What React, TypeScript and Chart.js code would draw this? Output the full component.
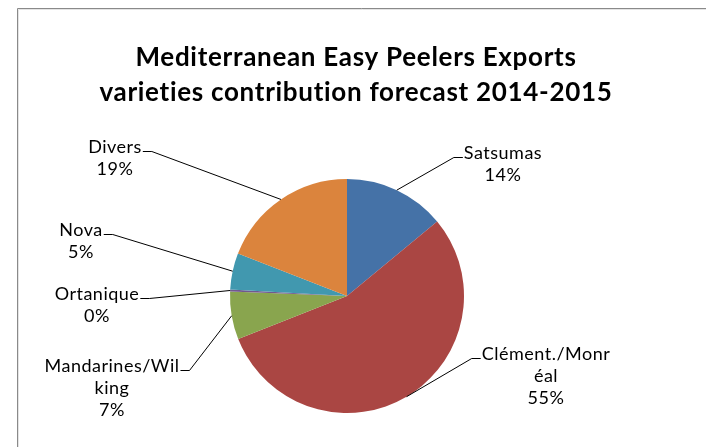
import React, { useEffect, useRef } from "react";
import { Chart, registerables } from "chart.js";

Chart.register(...registerables);

const titleLines = [
  "Mediterranean Easy Peelers Exports",
  "varieties contribution forecast 2014-2015",
];
const categories = [
  "Satsumas",
  "Clément./Monréal",
  "Mandarines/Wilking",
  "Ortanique",
  "Nova",
  "Divers",
];
const shares = [14.0, 55.0, 6.6, 0.3, 5.0, 19.1];
const sliceColors = ["#4572A7", "#AA4643", "#89A54E", "#71588F", "#4198AF", "#DB843D"];

// layout (not data): offset of each label's first text line centre from the pie centre
const labelOffsets: number[][] = [
  [156, -143],
  [199, 58],
  [-235, 70],
  [-250, -2],
  [-266, -66],
  [-232, -149],
];

const FONT_FAMILY = "Lato, 'Open Sans', sans-serif";
const LABEL_FONT = `18px ${FONT_FAMILY}`;
const LABEL_SPACING = "0.5px";
const TITLE_FONT = `bold 26px ${FONT_FAMILY}`;
const TITLE_SPACING = "0.7px";
const LINE_H = 22;
const WRAP_W = 138;

function wrapText(ctx: CanvasRenderingContext2D, text: string, maxW: number): string[] {
  const out: string[] = [];
  let cur = "";
  for (const ch of text) {
    const next = cur + ch;
    if (cur && ctx.measureText(next).width > maxW) {
      out.push(cur);
      cur = ch;
    } else {
      cur = next;
    }
  }
  if (cur) out.push(cur);
  return out;
}

const framePlugin = {
  id: "frameAndTitle",
  beforeDraw(chart: any) {
    const ctx = chart.ctx as any;
    ctx.save();
    ctx.fillStyle = "#ffffff";
    ctx.fillRect(0, 0, chart.width, chart.height);
    ctx.strokeStyle = "#8a8a8a";
    ctx.lineWidth = 1;
    ctx.beginPath();
    ctx.moveTo(17.5, chart.height);
    ctx.lineTo(17.5, 8.5);
    ctx.lineTo(chart.width, 8.5);
    ctx.stroke();
    ctx.strokeStyle = "#e4e4e4";
    ctx.beginPath();
    ctx.moveTo(18.5, chart.height);
    ctx.lineTo(18.5, 9.5);
    ctx.lineTo(chart.width, 9.5);
    ctx.stroke();
    ctx.fillStyle = "#000";
    ctx.font = TITLE_FONT;
    ctx.letterSpacing = TITLE_SPACING;
    ctx.textAlign = "center";
    ctx.textBaseline = "alphabetic";
    ctx.fillText(titleLines[0], 356, 66);
    ctx.fillText(titleLines[1], 356, 101);
    ctx.restore();
  },
};

const labelPlugin = {
  id: "pieLabels",
  afterDatasetsDraw(chart: any) {
    const ctx = chart.ctx as any;
    const meta = chart.getDatasetMeta(0);
    const data = chart.data.datasets[0].data as number[];
    const total = data.reduce((a, b) => a + b, 0);
    ctx.save();
    ctx.font = LABEL_FONT;
    ctx.letterSpacing = LABEL_SPACING;
    ctx.fillStyle = "#000";
    ctx.textAlign = "center";
    ctx.textBaseline = "middle";
    meta.data.forEach((arc: any, i: number) => {
      const p = arc.getProps(["x", "y", "startAngle", "endAngle", "outerRadius"], true);
      const mid = (p.startAngle + p.endAngle) / 2;
      const ax = p.x + Math.cos(mid) * p.outerRadius;
      const ay = p.y + Math.sin(mid) * p.outerRadius;
      const pct = Math.round((data[i] / total) * 100) + "%";
      const lines = [...wrapText(ctx, chart.data.labels[i], WRAP_W), pct];
      const [dx, dy] = labelOffsets[i];
      const cx = p.x + dx;
      const cy = p.y + dy;
      lines.forEach((t, k) => ctx.fillText(t, cx, cy + k * LINE_H));
      const w = ctx.measureText(lines[0]).width;
      const sy = Math.round(cy + 4) + 0.5;
      const edge = dx > 0 ? cx - w / 2 - 1 : cx + w / 2 + 1;
      const elbow = dx > 0 ? edge - 9 : edge + 9;
      ctx.strokeStyle = "#000";
      ctx.lineWidth = 1;
      ctx.beginPath();
      ctx.moveTo(edge, sy);
      ctx.lineTo(elbow, sy);
      ctx.lineTo(ax, ay);
      ctx.stroke();
    });
    ctx.restore();
  },
};

export default function App() {
  const ref = useRef<HTMLCanvasElement | null>(null);
  useEffect(() => {
    document.body.style.margin = "0";
    const canvas = ref.current;
    if (!canvas) return;
    const chart = new Chart(canvas, {
      type: "pie",
      data: {
        labels: categories,
        datasets: [
          {
            data: shares,
            backgroundColor: sliceColors,
            borderWidth: 0,
            hoverOffset: 0,
          },
        ],
      },
      options: {
        responsive: false,
        animation: false,
        layout: { padding: { left: 230, right: 242, top: 179, bottom: 34 } },
        plugins: {
          legend: { display: false },
          tooltip: { enabled: false },
          title: { display: false },
        },
      },
      plugins: [framePlugin, labelPlugin],
    });
    return () => chart.destroy();
  }, []);
  return (
    <div style={{ width: 706, height: 447 }}>
      <canvas ref={ref} width={706} height={447} />
    </div>
  );
}
